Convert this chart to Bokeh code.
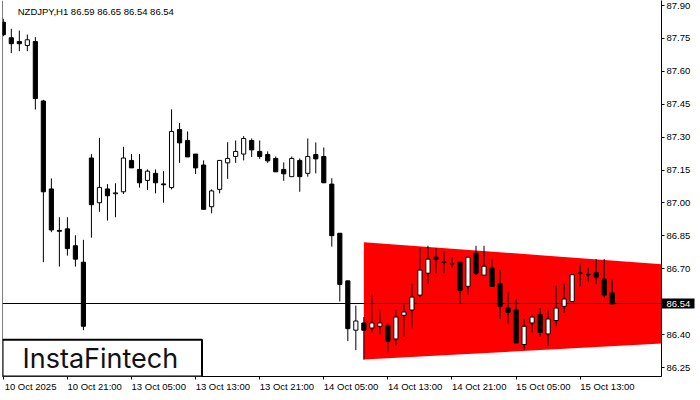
from bokeh.plotting import figure
from bokeh.models import Range1d, FixedTicker, Label, BoxAnnotation, Span, ColumnDataSource
from bokeh.embed import file_html
from bokeh.resources import INLINE

# ---------------- data ----------------
symbol = "NZDJPY,H1"
opens = [87.824, 87.753, 87.736, 87.718, 87.736, 87.465, 87.064, 86.875, 86.882, 86.805,
         86.730, 87.205, 87.001, 87.064, 87.042, 87.051, 87.194, 87.153, 87.103, 87.135,
         87.087, 87.070, 87.335, 87.285, 87.223, 87.173, 86.983, 87.062, 87.183, 87.212,
         87.223, 87.285, 87.235, 87.221, 87.203, 87.153, 87.120, 87.194, 87.135, 87.221,
         87.212, 87.086, 86.862, 86.645, 86.420, 86.453, 86.430, 86.438, 86.441, 86.380,
         86.488, 86.512, 86.580, 86.680, 86.753, 86.731, 86.724, 86.730, 86.620, 86.771,
         86.671, 86.703, 86.632, 86.521, 86.512, 86.355, 86.453, 86.491, 86.403, 86.464,
         86.529, 86.551, 86.681, 86.674, 86.682, 86.653, 86.59]
highs = [87.840, 87.794, 87.786, 87.768, 87.756, 87.470, 87.112, 86.935, 86.935, 86.853,
         86.832, 87.223, 87.297, 87.086, 87.090, 87.256, 87.223, 87.223, 87.153, 87.153,
         87.145, 87.427, 87.364, 87.326, 87.223, 87.194, 87.062, 87.194, 87.277, 87.285,
         87.305, 87.294, 87.285, 87.235, 87.212, 87.185, 87.212, 87.203, 87.294, 87.276,
         87.253, 87.113, 86.862, 86.645, 86.532, 86.480, 86.582, 86.514, 86.453, 86.514,
         86.541, 86.632, 86.795, 86.805, 86.795, 86.780, 86.753, 86.730, 86.753, 86.805,
         86.805, 86.744, 86.694, 86.592, 86.562, 86.471, 86.491, 86.521, 86.510, 86.623,
         86.632, 86.673, 86.723, 86.703, 86.744, 86.744, 86.65]
lows = [87.760, 87.683, 87.692, 87.692, 87.426, 86.730, 86.867, 86.710, 86.760, 86.710,
        86.420, 86.842, 86.960, 86.920, 86.935, 87.041, 87.160, 87.070, 87.059, 87.044,
        87.001, 87.062, 87.183, 87.210, 87.132, 86.971, 86.953, 87.044, 87.110, 87.183,
        87.194, 87.210, 87.201, 87.183, 87.142, 87.101, 87.120, 87.051, 87.120, 87.135,
        87.092, 86.801, 86.551, 86.370, 86.329, 86.286, 86.410, 86.400, 86.320, 86.350,
        86.390, 86.429, 86.570, 86.630, 86.680, 86.680, 86.703, 86.544, 86.582, 86.671,
        86.671, 86.620, 86.471, 86.450, 86.362, 86.329, 86.410, 86.390, 86.350, 86.438,
        86.499, 86.551, 86.620, 86.642, 86.632, 86.570, 86.54]
closes = [87.767, 87.726, 87.726, 87.744, 87.476, 87.051, 86.877, 86.871, 86.792, 86.744,
          86.438, 86.992, 87.071, 87.033, 87.046, 87.205, 87.160, 87.092, 87.145, 87.092,
          87.083, 87.326, 87.274, 87.210, 87.160, 86.971, 87.055, 87.194, 87.203, 87.235,
          87.294, 87.242, 87.212, 87.192, 87.142, 87.133, 87.203, 87.120, 87.212, 87.201,
          87.092, 86.851, 86.629, 86.427, 86.462, 86.420, 86.453, 86.453, 86.370, 86.480,
          86.503, 86.571, 86.694, 86.744, 86.744, 86.729, 86.722, 86.601, 86.753, 86.680,
          86.712, 86.620, 86.529, 86.501, 86.362, 86.438, 86.480, 86.410, 86.471, 86.521,
          86.562, 86.673, 86.679, 86.672, 86.662, 86.580, 86.54]
tick_positions = [0, 8, 16, 24, 32, 40, 48, 56, 64, 72]
tick_labels = ["10 Oct 2025", "10 Oct 21:00", "13 Oct 05:00", "13 Oct 13:00", "13 Oct 21:00",
               "14 Oct 05:00", "14 Oct 13:00", "14 Oct 21:00", "15 Oct 05:00", "15 Oct 13:00"]
price_ticks = [86.25, 86.40, 86.70, 86.85, 87.00, 87.15, 87.30, 87.45, 87.60, 87.75, 87.90]
last_price = 86.54
pattern_x = [45, 82.2]
pattern_top = [86.821, 86.721]
pattern_bottom = [86.286, 86.359]
logo_text = "InstaFintech"

FONT = "Liberation Sans"
FS = "9.5px"
X0, X1 = -0.1, 82.15
Y0, Y1 = 86.209, 87.923
LABEL_SHIFT = 3.4   # x-axis labels start at their tick (half a label width)

# ---------------- figure ----------------
p = figure(width=700, height=400, output_backend="svg", toolbar_location=None,
           x_range=Range1d(X0, X1), y_range=Range1d(Y0, Y1), y_axis_location="right",
           min_border_left=2, min_border_right=39, min_border_top=0, min_border_bottom=0)
p.background_fill_color = "white"
p.border_fill_color = "white"
p.outline_line_color = None
p.grid.visible = False

# pattern
p.patch([pattern_x[0], pattern_x[1], pattern_x[1], pattern_x[0]],
        [pattern_top[0], pattern_top[1], pattern_bottom[1], pattern_bottom[0]],
        fill_color="#FF0000", line_color=None)

# current price line
p.hspan(y=[last_price], line_color="black", line_width=1)

# candles
idx = list(range(len(opens)))
up = [c > o for o, c in zip(opens, closes)]
src = ColumnDataSource(dict(
    x=idx, high=highs, low=lows,
    top=[max(o, c) for o, c in zip(opens, closes)],
    bottom=[min(o, c) for o, c in zip(opens, closes)],
    fill=["white" if u else "black" for u in up],
))
p.segment(x0="x", y0="low", x1="x", y1="high", source=src, line_color="black", line_width=1)
p.vbar(x="x", width=0.52, top="top", bottom="bottom", source=src,
       fill_color="fill", line_color="black", line_width=1)

# left border
p.add_layout(Span(location=X0, dimension="height", line_color="black", line_width=1))

# x axis: labels start at the tick mark (labels on shifted major ticks, marks as minor ticks)
xa = p.xaxis[0]
label_pos = [t + LABEL_SHIFT for t in tick_positions]
xa.ticker = FixedTicker(ticks=label_pos, minor_ticks=tick_positions)
xa.major_label_overrides = {t: l for t, l in zip(label_pos, tick_labels)}
xa.major_tick_line_color = None
xa.major_tick_out = 3
xa.major_tick_in = 0
xa.minor_tick_line_color = "black"
xa.minor_tick_out = 3
xa.minor_tick_in = 0
xa.major_label_standoff = 1
xa.axis_line_color = "black"
xa.major_label_text_font = FONT
xa.major_label_text_font_size = FS
xa.major_label_text_color = "black"

# y axis with current-price marker (thick minor tick = black box)
ya = p.yaxis[0]
ya.ticker = FixedTicker(ticks=price_ticks, minor_ticks=[last_price])
ya.major_label_overrides = {t: f"{t:.2f}" for t in price_ticks}
ya.major_tick_out = 3
ya.major_tick_in = 0
ya.major_label_standoff = 2
ya.axis_line_color = "black"
ya.major_tick_line_color = "black"
ya.minor_tick_line_color = "black"
ya.minor_tick_line_width = 10
ya.minor_tick_out = 0
ya.minor_tick_in = -33
ya.major_label_text_font = FONT
ya.major_label_text_font_size = FS
ya.major_label_text_color = "black"

# title
title = f"{symbol}  {opens[-1]:.2f} {highs[-1]:.2f} {lows[-1]:.2f} {closes[-1]:.2f}"
p.add_layout(Label(x=1.8, y=87.873, text=title, text_font=FONT, text_font_size=FS,
                   text_color="black", text_baseline="middle", text_align="left"))

# current price text (in a side panel so it is not clipped to the frame)
p.add_layout(Label(x=X1, y=last_price, text=f"{last_price:.2f}", text_font=FONT,
                   text_font_size=FS, text_color="white", text_baseline="middle",
                   text_align="left", x_offset=5, padding=0), "below")

# logo
p.add_layout(BoxAnnotation(left=X0, right=24.8, bottom=Y0, top=86.377,
                           fill_color="white", fill_alpha=1.0,
                           line_color="black", line_width=2, line_alpha=1.0, level="annotation"))
p.add_layout(Label(x=2.4, y=86.29, text=logo_text, text_font="Inter", text_font_size="27px",
                   text_color="#111111", text_baseline="middle", text_align="left"))

open("out.html", "w").write(file_html(p, INLINE))
